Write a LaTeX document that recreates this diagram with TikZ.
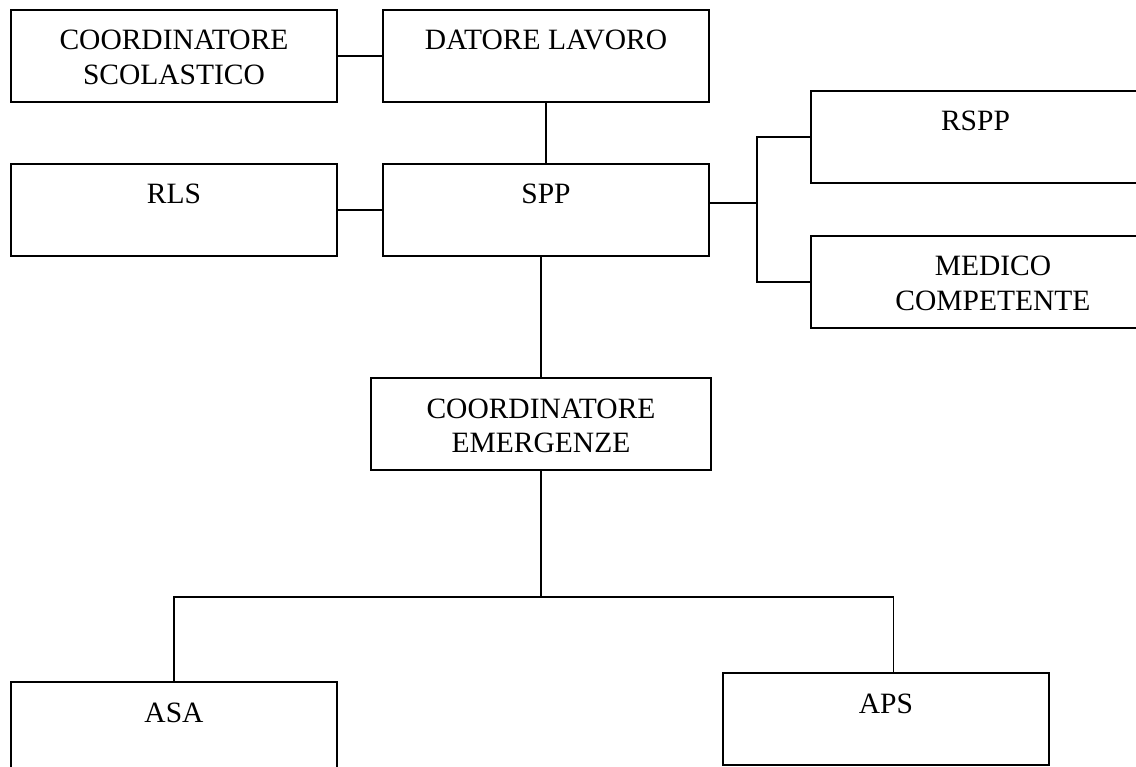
\documentclass[tikz,border=0pt]{standalone}
\usepackage{fontspec}
\setmainfont{Liberation Serif}
\usetikzlibrary{positioning}

\begin{document}
\begin{tikzpicture}[x=1pt, y=-1pt, line width=1.9pt, node distance=46pt,
    box/.style={draw, rectangle, anchor=north west, inner sep=0pt, outer sep=0pt,
        align=center, minimum width=326pt, text height=40pt, text depth=52pt,
        font=\fontsize{29.5}{34.5}\selectfont},
    twoline/.style={text height=74.5pt, text depth=17.5pt}]
    \path[use as bounding box, clip] (0,0) rectangle (1136,767);

    \node[box, twoline] (cs) at (11,10) {COORDINATORE\\SCOLASTICO};
    \node[box, right=of cs] (dl) {DATORE LAVORO};
    \node[box, below=62pt of cs] (rls) {RLS};
    \node[box, right=of rls] (spp) {SPP};
    \node[box, minimum width=329pt] (rspp) at (811,91) {RSPP};
    \node[box, twoline, minimum width=364pt] (mc) at (811,236) {MEDICO\\COMPETENTE};
    \node[box, twoline, minimum width=340pt] (ce) at (371,378) {COORDINATORE\\EMERGENZE};
    \node[box] (asa) at (11,682) {ASA};
    \node[box] (aps) at (723,673) {APS};

    \coordinate (bus) at (757,203);
    \coordinate (hub) at (541,597);

    \draw (cs) -- (dl);
    \draw (dl) -- (spp);
    \draw (rls) -- (spp);
    \draw (spp.east |- bus) -- (bus);
    \draw (rspp.west) -| (bus) |- (mc.west);
    \draw (ce.north |- spp.south) -- (ce.north);
    \draw (ce.south) -- (hub);
    \draw (asa.north) |- (hub) -| ([xshift=7.5pt]aps.north);
\end{tikzpicture}
\end{document}
